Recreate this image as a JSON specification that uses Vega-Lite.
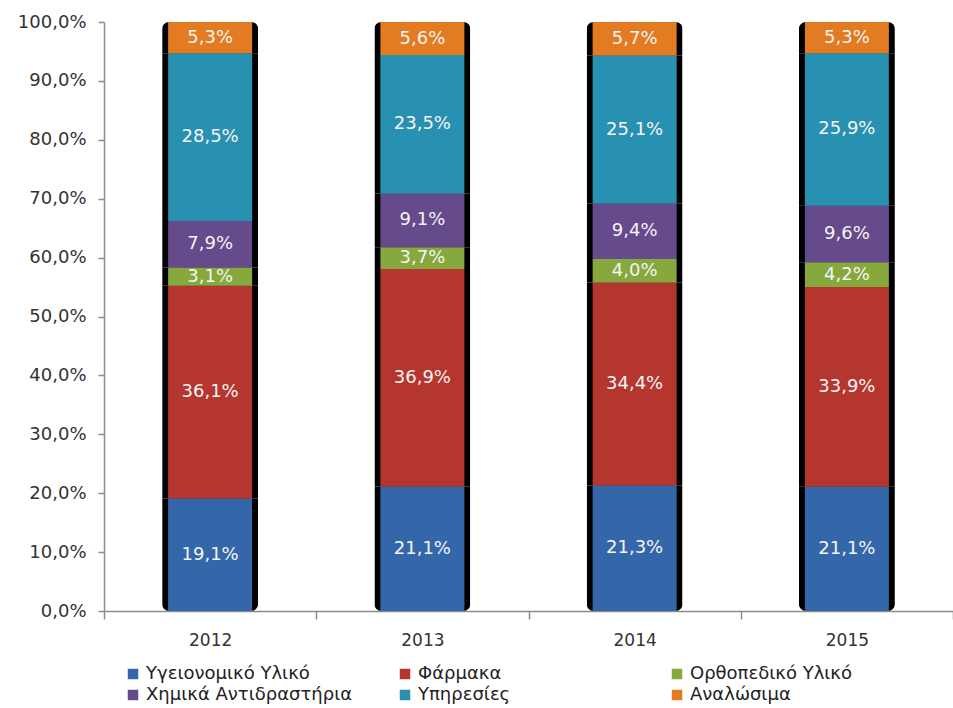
{
  "$schema": "https://vega.github.io/schema/vega-lite/v6.json",
  "width": 849,
  "height": 589,
  "autosize": "none",
  "padding": {"left": 104, "top": 22, "right": 0, "bottom": 97},
  "config": {
    "locale": {"number": {"decimal": ",", "thousands": ".", "grouping": [3], "currency": ["", " €"]}},
    "normalizedNumberFormat": ".1%",
    "view": {"stroke": null},
    "font": "DejaVu Sans"
  },
  "data": {
    "values": [
      {"year": "2012", "cat": "Υγειονομικό Υλικό", "ord": 1, "v": 0.191},
      {"year": "2012", "cat": "Φάρμακα", "ord": 2, "v": 0.361},
      {"year": "2012", "cat": "Ορθοπεδικό Υλικό", "ord": 3, "v": 0.031},
      {"year": "2012", "cat": "Χημικά Αντιδραστήρια", "ord": 4, "v": 0.079},
      {"year": "2012", "cat": "Υπηρεσίες", "ord": 5, "v": 0.285},
      {"year": "2012", "cat": "Αναλώσιμα", "ord": 6, "v": 0.053},
      {"year": "2013", "cat": "Υγειονομικό Υλικό", "ord": 1, "v": 0.211},
      {"year": "2013", "cat": "Φάρμακα", "ord": 2, "v": 0.369},
      {"year": "2013", "cat": "Ορθοπεδικό Υλικό", "ord": 3, "v": 0.037},
      {"year": "2013", "cat": "Χημικά Αντιδραστήρια", "ord": 4, "v": 0.091},
      {"year": "2013", "cat": "Υπηρεσίες", "ord": 5, "v": 0.235},
      {"year": "2013", "cat": "Αναλώσιμα", "ord": 6, "v": 0.056},
      {"year": "2014", "cat": "Υγειονομικό Υλικό", "ord": 1, "v": 0.213},
      {"year": "2014", "cat": "Φάρμακα", "ord": 2, "v": 0.344},
      {"year": "2014", "cat": "Ορθοπεδικό Υλικό", "ord": 3, "v": 0.040},
      {"year": "2014", "cat": "Χημικά Αντιδραστήρια", "ord": 4, "v": 0.094},
      {"year": "2014", "cat": "Υπηρεσίες", "ord": 5, "v": 0.251},
      {"year": "2014", "cat": "Αναλώσιμα", "ord": 6, "v": 0.057},
      {"year": "2015", "cat": "Υγειονομικό Υλικό", "ord": 1, "v": 0.211},
      {"year": "2015", "cat": "Φάρμακα", "ord": 2, "v": 0.339},
      {"year": "2015", "cat": "Ορθοπεδικό Υλικό", "ord": 3, "v": 0.042},
      {"year": "2015", "cat": "Χημικά Αντιδραστήρια", "ord": 4, "v": 0.096},
      {"year": "2015", "cat": "Υπηρεσίες", "ord": 5, "v": 0.259},
      {"year": "2015", "cat": "Αναλώσιμα", "ord": 6, "v": 0.053}
    ]
  },
  "encoding": {
    "x": {
      "field": "year", "type": "nominal",
      "scale": {"paddingInner": 0, "paddingOuter": 0},
      "axis": {
        "title": null, "labelAngle": 0, "labelFontSize": 17, "labelColor": "#333333",
        "labelPadding": 13, "tickBand": "extent", "tickSize": 8, "tickColor": "#8c8c8c",
        "domainColor": "#8c8c8c", "domainWidth": 1.5, "tickWidth": 1.5, "grid": false
      }
    },
    "y": {
      "field": "v", "type": "quantitative", "stack": "normalize",
      "scale": {"domain": [0, 1]},
      "axis": {
        "title": null, "format": ".1%", "values": [0, 0.1, 0.2, 0.3, 0.4, 0.5, 0.6, 0.7, 0.8, 0.9, 1.0],
        "labelFontSize": 18, "labelColor": "#333333", "labelPadding": 12,
        "tickSize": 6, "tickColor": "#8c8c8c", "domainColor": "#8c8c8c", "domainWidth": 1.5,
        "tickWidth": 1.5, "grid": false
      }
    },
    "order": {"field": "ord", "type": "quantitative"},
    "detail": {"field": "cat", "type": "nominal"}
  },
  "layer": [
    {
      "mark": {"type": "bar", "size": 96, "color": "black", "cornerRadius": 7}
    },
    {
      "mark": {"type": "bar", "size": 84},
      "encoding": {
        "color": {
          "field": "cat", "type": "nominal",
          "scale": {
            "domain": ["Υγειονομικό Υλικό", "Φάρμακα", "Ορθοπεδικό Υλικό", "Χημικά Αντιδραστήρια", "Υπηρεσίες", "Αναλώσιμα"],
            "range": ["#3467a9", "#b5352f", "#86a83c", "#654a8c", "#2891b1", "#e27b22"]
          },
          "legend": {
            "title": null, "orient": "none", "legendX": 20, "legendY": 643, "columns": 3,
            "gridAlign": "all", "direction": "horizontal", "symbolType": "square", "symbolSize": 110,
            "symbolStrokeWidth": 0, "labelFontSize": 18, "labelColor": "#222222", "labelOffset": 4,
            "columnPadding": 43, "rowPadding": 3, "labelLimit": 400
          }
        }
      }
    },
    {
      "mark": {"type": "text", "color": "#f4f4f4", "fontSize": 18, "baseline": "middle"},
      "encoding": {
        "y": {"field": "v", "type": "quantitative", "stack": "normalize", "bandPosition": 0.5},
        "text": {"field": "v", "type": "quantitative", "format": ".1%"}
      }
    }
  ]
}
